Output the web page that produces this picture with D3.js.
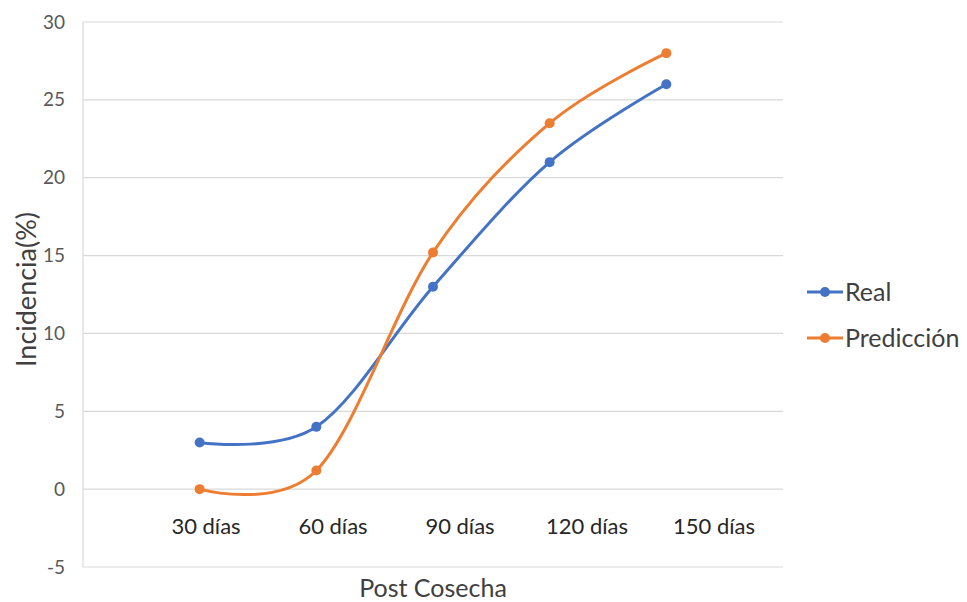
<!DOCTYPE html>
<html>
<head>
<meta charset="utf-8">
<script src="https://cdn.jsdelivr.net/npm/d3@7"></script>
<style>
  html, body { margin: 0; padding: 0; background: #fff; }
  svg { display: block; font-family: Lato, "Open Sans", sans-serif; }
</style>
</head>
<body>
<svg id="chart" width="967" height="602"></svg>
<script>
// Incidence over post-harvest storage time: measured vs. predicted
const categories = ["30 días", "60 días", "90 días", "120 días", "150 días"];
const realValues = [3, 4, 13, 21, 26];
const predValues = [0, 1.2, 15.2, 23.5, 28];
const yTicks = [-5, 0, 5, 10, 15, 20, 25, 30];
const seriesNames = ["Real", "Predicción"];
const seriesColors = ["#4472C4", "#ED7D31"];

const svg = d3.select("#chart");
const plot = { left: 83, right: 783, top: 22, bottom: 567 };

const x = d3.scalePoint().domain(categories).range([plot.left, plot.right]).padding(1);
const y = d3.scaleLinear().domain([-5, 30]).range([plot.bottom, plot.top]);
// category labels sit on their own, slightly wider spacing
const xLabel = d3.scalePoint().domain(categories).range([206, 714]);

// horizontal gridlines
svg.append("g")
  .selectAll("line")
  .data(yTicks)
  .join("line")
  .attr("x1", plot.left).attr("x2", plot.right)
  .attr("y1", d => y(d)).attr("y2", d => y(d))
  .attr("stroke", "#d9d9d9").attr("stroke-width", 1.2);

// vertical value axis line
svg.append("line")
  .attr("x1", plot.left).attr("x2", plot.left)
  .attr("y1", plot.top).attr("y2", plot.bottom)
  .attr("stroke", "#d9d9d9").attr("stroke-width", 1.2);

// y tick labels (plain hyphen for negatives)
const yAxis = d3.axisLeft(y).tickValues(yTicks).tickSize(0).tickPadding(0).tickFormat(d => String(d));
const yg = svg.append("g").attr("transform", `translate(${plot.left - 18},0)`).call(yAxis);
yg.select(".domain").remove();
yg.selectAll("text")
  .attr("fill", "#595959")
  .style("font-size", "19px")
  .style("font-family", "Lato, 'Open Sans', sans-serif");

// category labels just below the zero line
svg.append("g")
  .selectAll("text")
  .data(categories)
  .join("text")
  .attr("x", d => xLabel(d))
  .attr("y", y(0) + 45)
  .attr("text-anchor", "middle")
  .attr("fill", "#262626")
  .style("font-size", "22px")
  .text(d => d);

// axis titles
svg.append("text")
  .attr("transform", `translate(36,${(plot.top + plot.bottom) / 2 - 5}) rotate(-90)`)
  .attr("text-anchor", "middle")
  .attr("fill", "#404040")
  .style("font-size", "27px")
  .text("Incidencia(%)");

svg.append("text")
  .attr("x", (plot.left + plot.right) / 2)
  .attr("y", 597)
  .attr("text-anchor", "middle")
  .attr("fill", "#404040")
  .style("font-size", "25px")
  .text("Post Cosecha");

// smoothed series lines with markers
const line = d3.line()
  .x((d, i) => x(categories[i]))
  .y(d => y(d))
  .curve(d3.curveCardinal.tension(0));

[realValues, predValues].forEach((vals, s) => {
  const g = svg.append("g");
  g.append("path")
    .datum(vals)
    .attr("d", line)
    .attr("fill", "none")
    .attr("stroke", seriesColors[s])
    .attr("stroke-width", 3)
    .attr("stroke-linecap", "round");
  g.selectAll("circle")
    .data(vals)
    .join("circle")
    .attr("cx", (d, i) => x(categories[i]))
    .attr("cy", d => y(d))
    .attr("r", 5)
    .attr("fill", seriesColors[s]);
});

// legend
const legend = svg.append("g").attr("transform", "translate(807,292)");
seriesNames.forEach((name, i) => {
  const row = legend.append("g").attr("transform", `translate(0,${i * 46})`);
  row.append("line")
    .attr("x1", 0).attr("x2", 36).attr("y1", 0).attr("y2", 0)
    .attr("stroke", seriesColors[i]).attr("stroke-width", 3);
  row.append("circle").attr("cx", 18).attr("cy", 0).attr("r", 5).attr("fill", seriesColors[i]);
  row.append("text")
    .attr("x", 38).attr("y", 0).attr("dy", "0.35em")
    .attr("fill", "#404040")
    .style("font-size", "25px")
    .text(name);
});
</script>
</body>
</html>
